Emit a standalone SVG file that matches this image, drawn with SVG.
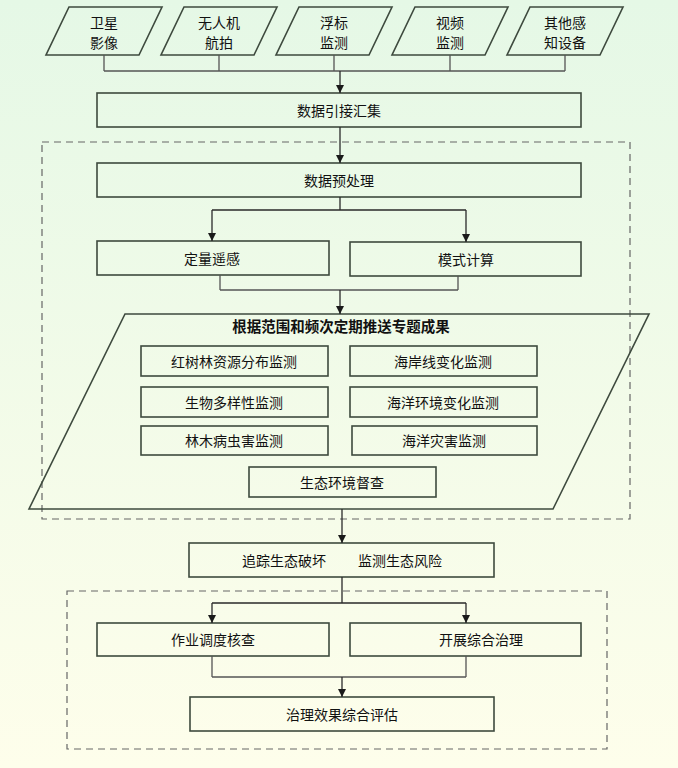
<svg xmlns="http://www.w3.org/2000/svg" width="678" height="768" viewBox="0 0 678 768">
<defs>
<linearGradient id="bg" x1="0" y1="0" x2="0" y2="1">
<stop offset="0" stop-color="#e5f8e6"/>
<stop offset="1" stop-color="#fefeeb"/>
</linearGradient>
<marker id="arr" viewBox="0 0 10 10" refX="10" refY="5" markerWidth="11" markerHeight="8" markerUnits="userSpaceOnUse" orient="auto">
<path d="M0,0 L10,5 L0,10 Z" fill="#1a1a1a"/>
</marker>
<style>
.box{fill:none;stroke:#3e4a3e;stroke-width:1.6}
.ln{fill:none;stroke:#2a2a2a;stroke-width:1.3}
.lg{fill:none;stroke:#555;stroke-width:1.3}
.dash{fill:none;stroke:#666;stroke-width:1.2;stroke-dasharray:7,5}
text{font-family:"Noto Sans CJK SC","Noto Sans CJK JP",sans-serif;font-size:14px;fill:#111;text-anchor:middle;dominant-baseline:central}
.b{font-weight:bold;font-size:14.5px}
</style>
</defs>
<rect width="678" height="768" fill="url(#bg)"/>

<g id="groups">
<rect class="dash" x="42" y="142" width="588" height="377"/>
<rect class="dash" x="67" y="591" width="540" height="158"/>
</g>

<g id="src1"><polygon class="box" points="69,7 162,7 139,55 46,55"/><text x="104" y="22">卫星</text><text x="104" y="42">影像</text></g>
<g id="src2"><polygon class="box" points="184,7 277,7 254,55 161,55"/><text x="219" y="22">无人机</text><text x="219" y="42">航拍</text></g>
<g id="src3"><polygon class="box" points="299,7 392,7 369,55 276,55"/><text x="334" y="22">浮标</text><text x="334" y="42">监测</text></g>
<g id="src4"><polygon class="box" points="415,7 508,7 485,55 392,55"/><text x="450" y="22">视频</text><text x="450" y="42">监测</text></g>
<g id="src5"><polygon class="box" points="530,7 623,7 600,55 507,55"/><text x="565" y="22">其他感</text><text x="565" y="42">知设备</text></g>

<g id="collect"><rect class="box" x="97" y="93" width="484" height="34"/><text x="339" y="110">数据引接汇集</text></g>
<g id="preprocess"><rect class="box" x="97" y="163" width="484" height="34"/><text x="339" y="180">数据预处理</text></g>
<g id="quant"><rect class="box" x="97" y="241" width="232" height="34"/><text x="212" y="258">定量遥感</text></g>
<g id="model"><rect class="box" x="350" y="242" width="231" height="34"/><text x="466" y="259">模式计算</text></g>

<g id="push">
<polygon class="box" points="125,314 649,314 553,509 29,509"/>
<text class="b" x="341" y="325">根据范围和频次定期推送专题成果</text>
</g>
<g id="m1"><rect class="box" x="141" y="346" width="187" height="30"/><text x="234" y="361">红树林资源分布监测</text></g>
<g id="m2"><rect class="box" x="350" y="346" width="187" height="30"/><text x="443" y="361">海岸线变化监测</text></g>
<g id="m3"><rect class="box" x="141" y="387" width="187" height="30"/><text x="234" y="402">生物多样性监测</text></g>
<g id="m4"><rect class="box" x="350" y="387" width="187" height="30"/><text x="443" y="402">海洋环境变化监测</text></g>
<g id="m5"><rect class="box" x="141" y="426" width="187" height="29"/><text x="234" y="440">林木病虫害监测</text></g>
<g id="m6"><rect class="box" x="352" y="426" width="185" height="29"/><text x="444" y="440">海洋灾害监测</text></g>
<g id="m7"><rect class="box" x="249" y="467" width="187" height="30"/><text x="342" y="482">生态环境督查</text></g>

<g id="track"><rect class="box" x="189" y="543" width="305" height="34"/><text x="284" y="560">追踪生态破坏</text><text x="400" y="560">监测生态风险</text></g>
<g id="dispatch"><rect class="box" x="97" y="623" width="232" height="33"/><text x="213" y="639">作业调度核查</text></g>
<g id="govern"><rect class="box" x="350" y="623" width="231" height="33"/><text x="481" y="639">开展综合治理</text></g>
<g id="evaluate"><rect class="box" x="190" y="697" width="304" height="34"/><text x="342" y="714">治理效果综合评估</text></g>

<g id="connectors">
<path class="lg" d="M104,55 V71 M219,55 V71 M334,55 V71 M450,55 V71 M565,55 V71 M104,71 H565"/>
<path class="ln" d="M340,71 V93" marker-end="url(#arr)"/>
<path class="ln" d="M340,127 V163" marker-end="url(#arr)"/>
<path class="ln" d="M340,197 V210 M212,210 H466"/>
<path class="ln" d="M212,210 V241" marker-end="url(#arr)"/>
<path class="ln" d="M466,210 V242" marker-end="url(#arr)"/>
<path class="lg" d="M220,275 V290 M458,276 V290 M220,290 H458"/>
<path class="ln" d="M340,290 V314" marker-end="url(#arr)"/>
<path class="ln" d="M342,509 V543" marker-end="url(#arr)"/>
<path class="ln" d="M342,577 V603 M212,603 H466"/>
<path class="ln" d="M212,603 V623" marker-end="url(#arr)"/>
<path class="ln" d="M466,603 V623" marker-end="url(#arr)"/>
<path class="lg" d="M212,656 V677 M466,656 V677 M212,677 H466"/>
<path class="ln" d="M342,677 V697" marker-end="url(#arr)"/>
</g>
</svg>
